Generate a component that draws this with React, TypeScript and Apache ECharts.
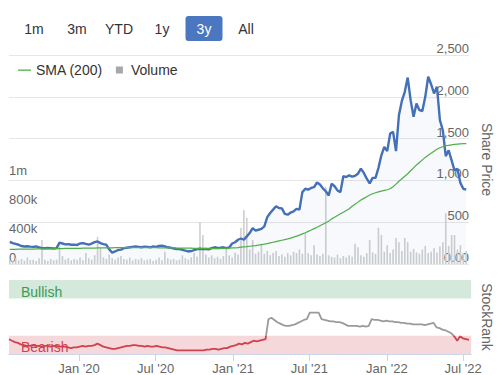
import React, { useEffect, useRef } from 'react';
import * as echarts from 'echarts';

const START = Date.UTC(2019, 6, 19);
const END = Date.UTC(2022, 6, 20);
const WEEK = 7 * 86400000;

// Weekly share price
const price = [
  265, 250, 240, 230, 215, 210, 212, 208, 205, 210,
  200, 190, 188, 192, 190, 186, 190, 255, 245, 235,
  238, 230, 232, 228, 245, 250, 240, 232, 245, 262,
  270, 250, 238, 230, 175, 135, 150, 168, 172, 190,
  195, 200, 205, 210, 205, 200, 208, 205, 200, 210,
  205, 215, 220, 210, 200, 195, 185, 180, 178, 170,
  160, 150, 155, 165, 178, 182, 178, 180, 175, 190,
  200, 192, 195, 200, 190, 198, 245, 260, 290, 305,
  290, 330, 370, 430, 400, 410, 420, 450, 560, 610,
  650, 690, 670, 665, 600, 590, 615, 630, 660, 650,
  860, 900, 890, 910, 920, 975, 950, 905, 870, 820,
  960, 930, 880, 860, 1050, 1040, 1060, 1045, 1055, 1080,
  1140, 1090, 1020, 965, 1030, 1030, 1150, 1300, 1400, 1350,
  1560, 1580, 1350, 1780, 1950, 2060, 2230, 1960, 1760, 1920,
  1840, 1830, 2000, 2240, 2150, 2040, 2120, 1720, 1600, 1290,
  1360, 1240, 1120, 1140, 970, 900, 890,
];

// 200-day simple moving average
const sma = [
  175, 176, 176, 177, 177, 178, 178, 179, 179, 180,
  180, 181, 181, 182, 182, 183, 184, 185, 185, 186,
  186, 187, 187, 188, 188, 189, 189, 190, 190, 191,
  192, 192, 193, 193, 194, 194, 195, 195, 196, 196,
  196, 196, 196, 196, 196, 196, 195, 195, 195, 195,
  195, 194, 194, 193, 193, 192, 192, 191, 191, 190,
  190, 189, 189, 188, 188, 187, 187, 186, 186, 185,
  185, 185, 186, 186, 188, 190, 192, 194, 197, 201,
  205, 208, 212, 216, 220, 225, 231, 237, 244, 252,
  260, 268, 276, 284, 292, 300, 310, 321, 333, 346,
  360, 374, 390, 406, 423, 440, 458, 476, 494, 512,
  540, 560, 580, 600, 620, 640, 660, 690, 715, 740,
  765, 785, 805, 825, 840, 852, 862, 872, 880, 888,
  900, 925, 955, 990, 1020, 1050, 1080, 1115, 1150, 1185,
  1215, 1245, 1275, 1300, 1325, 1350, 1372, 1390, 1403, 1412,
  1420, 1425, 1430, 1435, 1437, 1439, 1440,
];

// Volume, thousands of shares
const volumeK = [
  60, 40, 80, 50, 70, 45, 90, 55, 60, 40,
  80, 330, 60, 40, 70, 50, 60, 240, 110, 60,
  80, 50, 70, 60, 90, 50, 150, 80, 60, 120,
  375, 220, 90, 70, 130, 80, 60, 90, 110, 70,
  60, 90, 50, 70, 60, 80, 50, 60, 70, 40,
  60, 90, 50, 170, 80, 60, 70, 50, 60, 120,
  80, 60, 90, 150, 100, 580, 400, 130, 90, 120,
  80, 100, 70, 110, 230, 120, 90, 160, 130, 500,
  745, 635, 200, 330, 140, 170, 260, 140, 180, 120,
  150, 180, 110, 130, 100, 150, 120, 170, 150, 200,
  140, 430, 150, 120, 260, 130, 110, 140, 1060, 120,
  100, 90, 130, 80, 110, 90, 120, 100, 280, 230,
  120, 100, 150, 330, 160, 140, 500, 400, 170, 260,
  150, 200, 360, 300, 180, 360, 300, 170, 210, 160,
  140, 200, 250, 150, 170, 220, 160, 240, 300, 700,
  250, 400, 400, 200, 260, 150, 180,
];

// StockRank
const stockRank = [
  20, 18, 16, 15, 13, 12, 11, 11, 12, 11,
  11, 10, 11, 11, 10, 11, 11, 10, 10, 10,
  9, 8, 9, 9, 10, 11, 10, 11, 11, 12,
  14, 12, 10, 9, 8, 7, 7, 8, 9, 10,
  11, 11, 12, 12, 11, 11, 10, 11, 10, 10,
  11, 10, 9, 9, 8, 7, 6, 5, 5, 5,
  5, 5, 5, 5, 5, 5, 5, 6, 6, 7,
  7, 6, 7, 8, 8, 10, 11, 12, 14, 13,
  15, 14, 16, 18, 17, 18, 19, 20, 47, 49,
  46, 43, 41, 39, 38, 38, 39, 40, 42, 44,
  46, 47, 56, 56, 56, 56, 47, 46, 45, 44,
  44, 43, 43, 42, 40, 38, 38, 38, 38, 37,
  38, 37, 38, 47, 46, 46, 45, 44, 45, 44,
  44, 43, 43, 42, 42, 41, 41, 40, 40, 40,
  40, 39, 40, 41, 42, 36, 35, 33, 32, 30,
  28, 24, 18, 24, 21, 20, 19,
];

const monthLabels: Record<number, string> = { 0: 'Jan', 6: 'Jul' };
const volumeTickLabels = ['0', '400k', '800k', '1m'];
const rangeButtons = ['1m', '3m', 'YTD', '1y', '3y', 'All'];
const selectedRange = '3y';
const bearishLimit = 24.5;
const bands = [
  { name: 'Bullish', from: 75, to: 100 },
  { name: 'Bearish', from: 0, to: bearishLimit },
];

const FONT = "'Liberation Sans', Arial, Helvetica, sans-serif";

export default function App() {
  const ref = useRef<HTMLDivElement>(null);

  useEffect(() => {
    if (!ref.current) return;
    const chart = echarts.init(ref.current, null, { renderer: 'svg' });
    const dates = price.map((_, i) => START + i * WEEK);

    const btnX = [34, 77, 119, 162, 204, 246];
    const graphic: any[] = [];
    rangeButtons.forEach((b, i) => {
      if (b === selectedRange) {
        graphic.push({
          type: 'rect',
          shape: { x: btnX[i] - 18.5, y: 16, width: 37, height: 25, r: 3 },
          style: { fill: '#4a77bf' },
        });
      }
      graphic.push({
        type: 'text',
        x: btnX[i],
        y: 29,
        style: {
          text: b,
          fill: b === selectedRange ? '#ffffff' : '#333333',
          font: `14px ${FONT}`,
          align: 'center',
          verticalAlign: 'middle',
        },
      });
    });

    const bandColors: Record<string, [string, string]> = {
      Bullish: ['#d4e9dc', '#3d9b56'],
      Bearish: ['#f4d8da', '#d0414f'],
    };

    // colour switch of the StockRank line at the bearish limit (gradient across the line's bounding box)
    const rMax = Math.max(...stockRank);
    const rMin = Math.min(...stockRank);
    const cut = (rMax - bearishLimit) / (rMax - rMin);
    const rankGradient = new echarts.graphic.LinearGradient(0, 0, 0, 1, [
      { offset: 0, color: '#9a9a9a' },
      { offset: cut, color: '#9a9a9a' },
      { offset: cut, color: '#d0414f' },
      { offset: 1, color: '#d0414f' },
    ]);

    const option: any = {
      animation: false,
      textStyle: { fontFamily: FONT },
      graphic,
      legend: {
        left: 13,
        top: 58,
        itemWidth: 13,
        itemHeight: 13,
        itemGap: 10,
        textStyle: { fontSize: 14, color: '#333' },
        data: [
          { name: 'SMA (200)', icon: 'path://M0,0M0,6L13,6L13,7.3L0,7.3ZM13,13' },
          { name: 'Volume', icon: 'path://M0,0M3,3L10,3L10,10L3,10ZM13,13', itemStyle: { color: '#a6a6ad' } },
        ],
      },
      grid: [
        { left: 9, right: 23, top: 55, height: 209, containLabel: false },
        { left: 9, right: 23, top: 280, height: 75, containLabel: false },
      ],
      xAxis: [
        {
          type: 'time',
          gridIndex: 0,
          min: START,
          max: END,
          axisLine: { show: false },
          axisTick: { show: false },
          axisLabel: { show: false },
          splitLine: { show: false },
        },
        {
          type: 'time',
          gridIndex: 1,
          min: START,
          max: END,
          splitNumber: 6,
          axisLine: { show: true, lineStyle: { color: '#ccd6eb' } },
          axisTick: { show: true, length: 7, lineStyle: { color: '#ccd6eb' } },
          axisLabel: {
            margin: 8,
            color: '#666',
            fontSize: 13,
            hideOverlap: false,
            formatter: (v: number) => {
              const d = new Date(v);
              const m = monthLabels[d.getMonth()];
              if (!m || d.getDate() !== 1) return '';
              return `${m} '${String(d.getFullYear()).slice(2)}`;
            },
          },
          splitLine: { show: false },
        },
      ],
      yAxis: [
        {
          type: 'value',
          gridIndex: 0,
          position: 'right',
          min: 0,
          max: 2500,
          interval: 500,
          name: 'Share Price',
          nameLocation: 'middle',
          nameRotate: -90,
          nameGap: 4,
          nameTextStyle: { color: '#666', fontSize: 14 },
          axisLine: { show: false },
          axisTick: { show: false },
          splitLine: { show: true, lineStyle: { color: '#e6e6e6', width: 1 } },
          axisLabel: {
            inside: true,
            margin: 0,
            verticalAlign: 'bottom',
            color: '#666',
            fontSize: 13,
            formatter: (v: number) => (v === 0 ? '0.00' : v.toLocaleString('en-US')),
          },
        },
        {
          type: 'value',
          gridIndex: 0,
          position: 'left',
          min: 0,
          max: 2880000,
          interval: 400000,
          axisLine: { show: false },
          axisTick: { show: false },
          splitLine: { show: false },
          axisLabel: {
            inside: true,
            margin: 0,
            verticalAlign: 'bottom',
            color: '#666',
            fontSize: 13,
            showMaxLabel: false,
            formatter: (v: number) => {
              const idx = Math.round(v / 400000);
              return volumeTickLabels[idx] ?? '';
            },
          },
        },
        {
          type: 'value',
          gridIndex: 1,
          position: 'right',
          min: 0,
          max: 100,
          interval: 100,
          name: 'StockRank',
          nameLocation: 'middle',
          nameRotate: -90,
          nameGap: 4,
          nameTextStyle: { color: '#666', fontSize: 14 },
          axisLine: { show: false },
          axisTick: { show: false },
          splitLine: { show: true, lineStyle: { color: '#e6e6e6' } },
          axisLabel: {
            inside: true,
            margin: 2,
            verticalAlign: 'bottom',
            color: '#666',
            fontSize: 13,
            formatter: (v: number) => (v === 0 ? '0' : ''),
          },
        },
      ],
      series: [
        {
          name: 'Volume',
          type: 'bar',
          xAxisIndex: 0,
          yAxisIndex: 1,
          barWidth: 1.6,
          color: '#a6a6ad',
          itemStyle: { color: '#cfcfcf' },
          data: volumeK.map((v, i) => [dates[i], v * 1000]),
        },
        {
          name: 'Price',
          type: 'line',
          xAxisIndex: 0,
          yAxisIndex: 0,
          showSymbol: false,
          symbol: 'none',
          color: '#4470b8',
          lineStyle: { color: '#4470b8', width: 2.4 },
          areaStyle: { color: 'rgba(69,114,183,0.06)' },
          data: price.map((v, i) => [dates[i], v]),
        },
        {
          name: 'SMA (200)',
          type: 'line',
          xAxisIndex: 0,
          yAxisIndex: 0,
          showSymbol: false,
          symbol: 'none',
          color: '#4fae49',
          lineStyle: { color: '#4fae49', width: 1.2 },
          data: sma.map((v, i) => [dates[i], v]),
        },
        {
          name: 'StockRank',
          type: 'line',
          xAxisIndex: 1,
          yAxisIndex: 2,
          showSymbol: false,
          symbol: 'none',
          z: 5,
          lineStyle: { width: 1.8, color: rankGradient },
          data: stockRank.map((v, i) => [dates[i], v]),
          markArea: {
            silent: true,
            z: 1,
            data: bands.map((b) => [
              {
                name: b.name,
                yAxis: b.from,
                itemStyle: { color: bandColors[b.name][0] },
                label: {
                  show: true,
                  position: 'insideLeft',
                  distance: 12,
                  offset: [0, b.name === 'Bullish' ? 3 : 2],
                  color: bandColors[b.name][1],
                  fontSize: 14,
                  fontFamily: FONT,
                },
              },
              { yAxis: b.to },
            ]),
          },
        },
      ],
    };

    try {
      chart.setOption(option);
    } catch (e) {
      console.error(e);
    }
    return () => chart.dispose();
  }, []);

  return (
    <div
      ref={ref}
      style={{ position: 'fixed', left: 0, top: 0, width: 502, height: 375, background: '#fff' }}
    />
  );
}
